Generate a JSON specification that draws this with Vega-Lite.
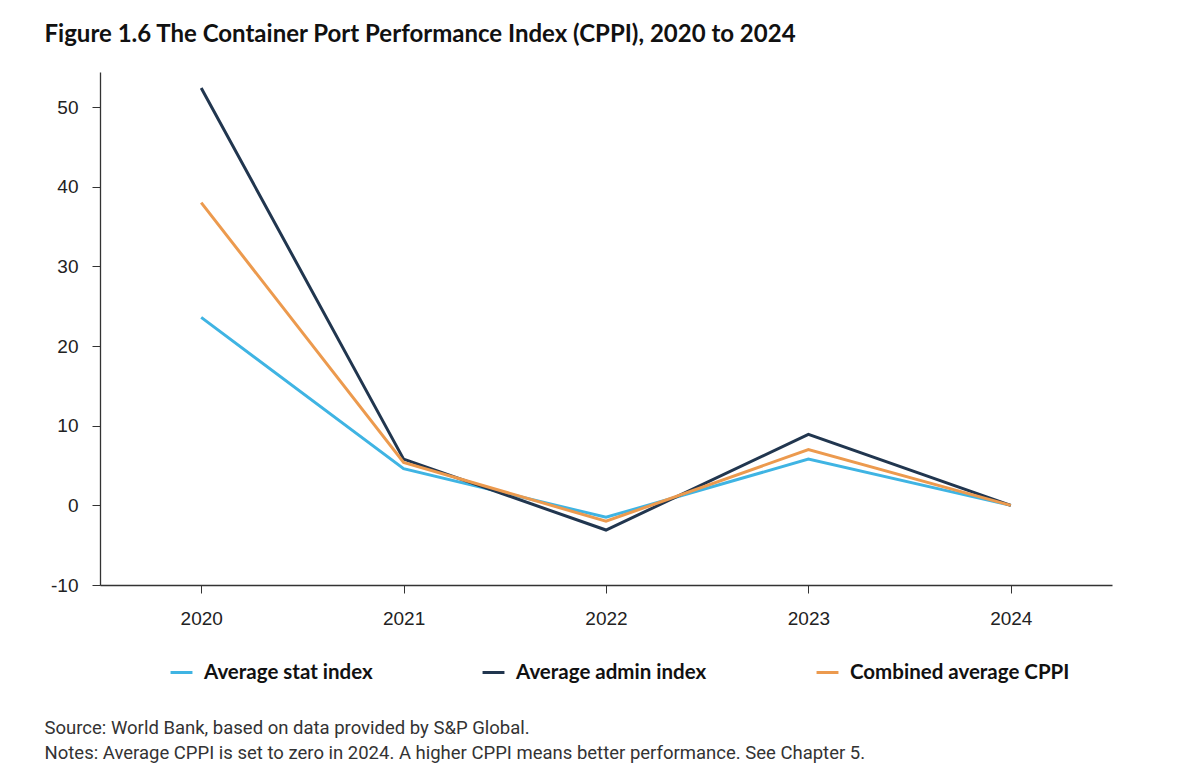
{
  "$schema": "https://vega.github.io/schema/vega-lite/v6.json",
  "background": "white",
  "padding": {"left": 44, "top": 23, "right": 10, "bottom": 5},
  "title": {
    "text": ["Source: World Bank, based on data provided by S&P Global.", "Notes: Average CPPI is set to zero in 2024. A higher CPPI means better performance. See Chapter 5."],
    "orient": "bottom",
    "anchor": "start",
    "frame": "bounds",
    "dx": 0,
    "font": "Roboto",
    "fontSize": 18.5,
    "fontWeight": "normal",
    "color": "#333333",
    "lineHeight": 25,
    "offset": 36
  },
  "vconcat": [
    {
      "title": {
        "text": "Figure 1.6 The Container Port Performance Index (CPPI), 2020 to 2024",
        "anchor": "start",
        "frame": "bounds",
        "dx": -6,
        "font": "Lato",
        "fontSize": 24,
        "fontWeight": "bold",
        "color": "#111111",
        "offset": 25
      },
      "width": 1012,
      "height": 513,
      "data": {
        "values": [
          {"year": "2020", "series": "Average stat index", "value": 23.6},
          {"year": "2021", "series": "Average stat index", "value": 4.6},
          {"year": "2022", "series": "Average stat index", "value": -1.5},
          {"year": "2023", "series": "Average stat index", "value": 5.8},
          {"year": "2024", "series": "Average stat index", "value": 0},
          {"year": "2020", "series": "Average admin index", "value": 52.4},
          {"year": "2021", "series": "Average admin index", "value": 5.8},
          {"year": "2022", "series": "Average admin index", "value": -3.1},
          {"year": "2023", "series": "Average admin index", "value": 8.9},
          {"year": "2024", "series": "Average admin index", "value": 0},
          {"year": "2020", "series": "Combined average CPPI", "value": 38.0},
          {"year": "2021", "series": "Combined average CPPI", "value": 5.4},
          {"year": "2022", "series": "Combined average CPPI", "value": -2.0},
          {"year": "2023", "series": "Combined average CPPI", "value": 7.0},
          {"year": "2024", "series": "Combined average CPPI", "value": 0}
        ]
      },
      "mark": {"type": "line", "strokeWidth": 3},
      "encoding": {
        "x": {
          "field": "year",
          "type": "ordinal",
          "scale": {"type": "point", "padding": 0.5},
          "axis": {
            "title": null,
            "labelAngle": 0,
            "labelFont": "Liberation Sans",
            "labelFontSize": 19,
            "labelColor": "#222222",
            "labelPadding": 16,
            "tickSize": 8,
            "tickColor": "#333333",
            "domainColor": "#333333",
            "domainWidth": 1.3,
            "grid": false
          }
        },
        "y": {
          "field": "value",
          "type": "quantitative",
          "scale": {"domain": [-10, 54.4], "nice": false, "zero": false},
          "axis": {
            "title": null,
            "values": [-10, 0, 10, 20, 30, 40, 50],
            "labelExpr": "replace(datum.label, '−', '-')",
            "labelFont": "Liberation Sans",
            "labelFontSize": 19,
            "labelColor": "#222222",
            "labelPadding": 14,
            "tickSize": 8,
            "tickColor": "#333333",
            "domainColor": "#333333",
            "domainWidth": 1.3,
            "grid": false
          }
        },
        "color": {
          "field": "series",
          "type": "nominal",
          "scale": {
            "domain": ["Average stat index", "Average admin index", "Combined average CPPI"],
            "range": ["#3fb4e3", "#21364f", "#ec9a4e"]
          },
          "legend": {
            "title": null,
            "orient": "none",
            "legendX": 69,
            "legendY": 588,
            "direction": "horizontal",
            "columns": 3,
            "columnPadding": 103,
            "symbolType": "stroke",
            "symbolStrokeWidth": 3,
            "symbolSize": 480,
            "labelFont": "Lato",
            "labelFontSize": 20.5,
            "labelFontWeight": "bold",
            "labelColor": "#111111",
            "labelOffset": 10,
            "labelLimit": 400
          }
        },
        "order": {"field": "series"}
      }
    }
  ],
  "config": {"view": {"stroke": null}}
}
